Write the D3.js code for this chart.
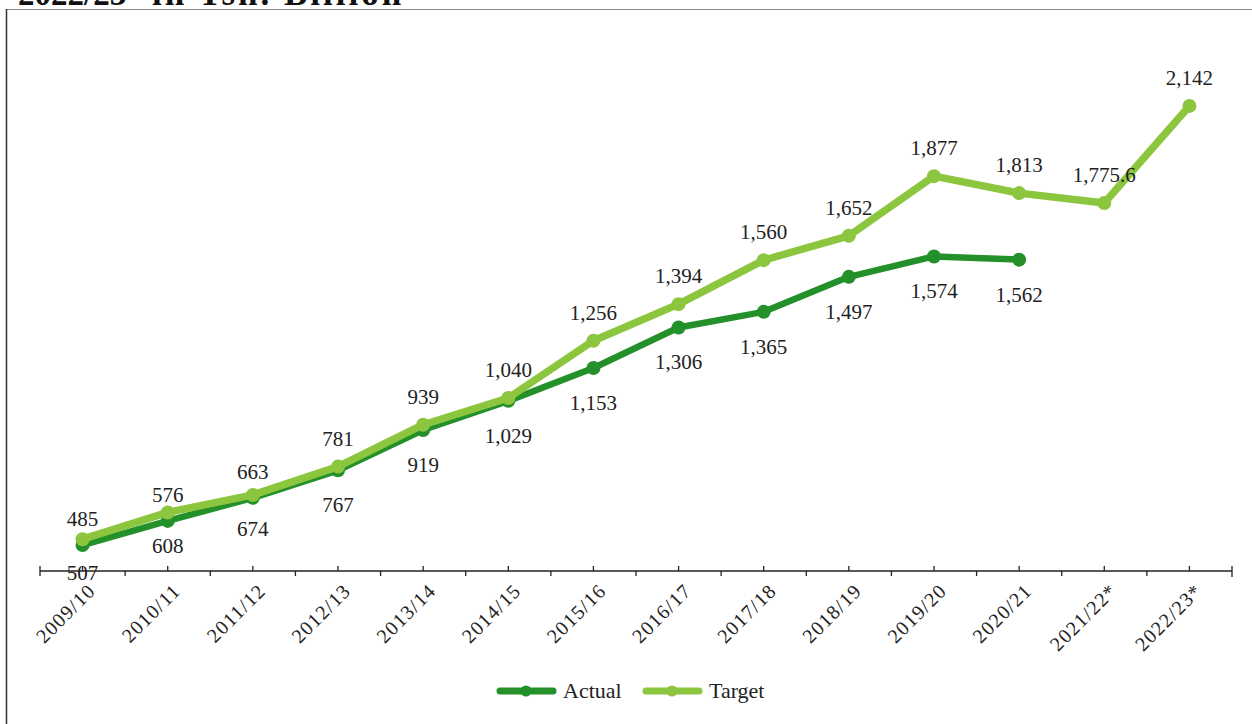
<!DOCTYPE html>
<html>
<head>
<meta charset="utf-8">
<script src="https://cdn.jsdelivr.net/npm/d3@7"></script>
<style>
html,body{margin:0;padding:0;background:#fff;}
svg{display:block;}
</style>
</head>
<body>
<svg id="chart" width="1252" height="724"></svg>
<script>
const categories = ["2009/10","2010/11","2011/12","2012/13","2013/14","2014/15","2015/16","2016/17","2017/18","2018/19","2019/20","2020/21","2021/22*","2022/23*"];
const actualValues = [485,576,663,767,919,1029,1153,1306,1365,1497,1574,1562];
const targetValues = [507,608,674,781,939,1040,1256,1394,1560,1652,1877,1813,1775.6,2142];
const actualLabels = ["485","576","663","767","919","1,029","1,153","1,306","1,365","1,497","1,574","1,562"];
const targetLabels = ["507","608","674","781","939","1,040","1,256","1,394","1,560","1,652","1,877","1,813","1,775.6","2,142"];
// label placement: true = above point
const actualAbove = [true,true,true,false,false,false,false,false,false,false,false,false];
const targetAbove = [false,false,false,true,true,true,true,true,true,true,true,true,true,true];
const seriesNames = ["Actual","Target"];
const titleParts = ["2022/23*", "in Tsh. Billion"];

const colActual = "#23902a";
const colTarget = "#8cc63e";
const font = "'Liberation Serif', 'DejaVu Serif', serif";

const svg = d3.select("#chart");

// frame
svg.append("line").attr("x1",6.5).attr("x2",1252).attr("y1",9.5).attr("y2",9.5).attr("stroke","#8a8a8a").attr("stroke-width",1.2);
svg.append("line").attr("x1",6.5).attr("x2",6.5).attr("y1",9).attr("y2",724).attr("stroke","#333").attr("stroke-width",1.5);

// cut-off title (only its lower edge shows in the reference)
svg.append("text").attr("x",18).attr("y",5).attr("font-family",font).attr("font-weight","bold")
  .attr("font-size",33).attr("fill","#111").text(titleParts[0]);
svg.append("text").attr("x",152).attr("y",5).attr("font-family",font).attr("font-weight","bold")
  .attr("font-size",35).attr("letter-spacing",3).attr("fill","#111").text(titleParts[1]);

const x = d3.scaleBand().domain(categories).range([40,1232]);
const y = d3.scaleLinear().domain([387,2200]).range([571,571-1813*0.265]);
const cx = c => x(c) + x.bandwidth()/2;

// axis line and ticks
const axisY = 571;
const g = svg.append("g");
g.append("line").attr("x1",x.range()[0]).attr("x2",x.range()[1]).attr("y1",axisY).attr("y2",axisY).attr("stroke","#222").attr("stroke-width",1.3);
g.selectAll(".ct").data(categories).enter().append("line")
  .attr("x1",d=>cx(d)).attr("x2",d=>cx(d)).attr("y1",axisY).attr("y2",axisY-5).attr("stroke","#222").attr("stroke-width",1.3);
const bounds = categories.map(d=>x(d)).concat([x.range()[1]]);
g.selectAll(".bt").data(bounds).enter().append("line")
  .attr("x1",d=>d).attr("x2",d=>d).attr("y1",(d,i)=> (i===0||i===bounds.length-1)? axisY-5:axisY).attr("y2",(d,i)=> (i===bounds.length-1)? axisY+6: axisY+5).attr("stroke","#222").attr("stroke-width",1.3);

// x labels
g.selectAll(".xl").data(categories).enter().append("text")
  .attr("transform",d=>`translate(${cx(d)+14},${axisY+21}) rotate(-45)`)
  .attr("text-anchor","end").attr("font-family",font).attr("font-size",20).attr("letter-spacing",1.2).attr("fill","#222")
  .text(d=>d);

// lines
const line = d3.line().x(d=>cx(d.c)).y(d=>y(d.v));
const actualData = actualValues.map((v,i)=>({c:categories[i],v}));
const targetData = targetValues.map((v,i)=>({c:categories[i],v}));

function drawSeries(data,color,width,r){
  svg.append("path").datum(data).attr("d",line).attr("fill","none").attr("stroke",color)
    .attr("stroke-width",width).attr("stroke-linejoin","round").attr("stroke-linecap","round");
  svg.selectAll(null).data(data).enter().append("circle")
    .attr("cx",d=>cx(d.c)).attr("cy",d=>y(d.v)).attr("r",r).attr("fill",color);
}
drawSeries(actualData,colActual,6.5,7);
drawSeries(targetData,colTarget,7.5,7);

function drawLabels(data,labels,above,upOff,downOff){
  svg.selectAll(null).data(data).enter().append("text")
    .attr("x",d=>cx(d.c)).attr("y",(d,i)=> above[i] ? y(d.v)-upOff : y(d.v)+downOff)
    .attr("text-anchor","middle").attr("font-family",font).attr("font-size",21).attr("fill","#222")
    .text((d,i)=>labels[i]);
}
drawLabels(actualData,actualLabels,actualAbove,19,42);
drawLabels(targetData,targetLabels,targetAbove,21,41);

// legend
const leg = svg.append("g");
const legItems = [{n:seriesNames[0],c:colActual,x:497},{n:seriesNames[1],c:colTarget,x:643}];
legItems.forEach(it=>{
  leg.append("line").attr("x1",it.x+3).attr("x2",it.x+56).attr("y1",691).attr("y2",691).attr("stroke",it.c).attr("stroke-width",7).attr("stroke-linecap","round");
  leg.append("circle").attr("cx",it.x+29).attr("cy",691).attr("r",5.5).attr("fill",it.c);
  leg.append("text").attr("x",it.x+66).attr("y",698).attr("font-family",font).attr("font-size",22).attr("fill","#222").text(it.n);
});
</script>
</body>
</html>
